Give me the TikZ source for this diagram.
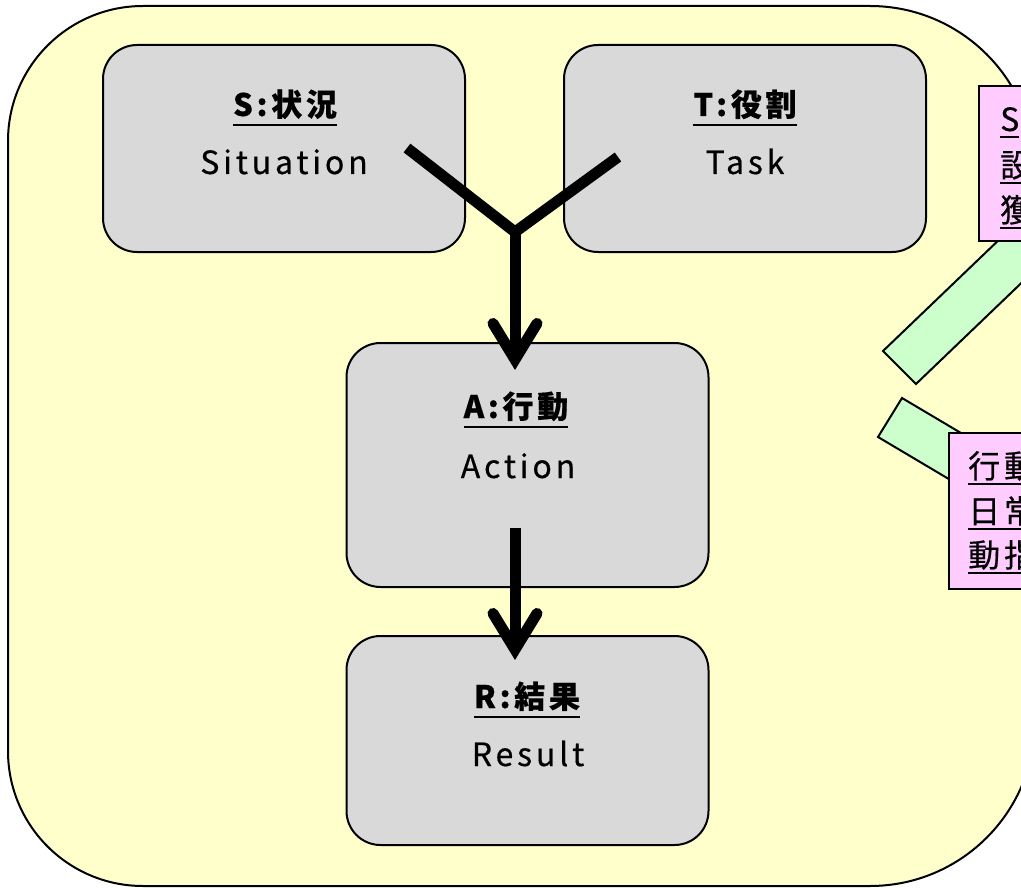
\documentclass[tikz,border=0pt]{standalone}
\usepackage{fontspec}
\setmainfont{Noto Sans CJK JP}[LetterSpace=12, FakeBold=0.5]
\usetikzlibrary{arrows.meta}
\definecolor{bgyellow}{HTML}{FFFFCC}
\definecolor{boxgray}{HTML}{D9D9D9}
\definecolor{notepink}{HTML}{FFCCFF}
\definecolor{notegreen}{HTML}{CCFFCC}
\newcommand{\ulx}[2][-10pt]{\setbox0=\hbox{#2}\rlap{\rule[#1]{\wd0}{2pt}}\box0}
\begin{document}
\begin{tikzpicture}[x=1pt,y=-1pt,
  frame/.style={draw=black, line width=2pt, fill=bgyellow},
  graybox/.style={draw=black, line width=2pt, fill=boxgray, rounded corners=34pt, minimum width=362pt, inner sep=0pt},
  pinkbox/.style={draw=black, line width=1.8pt, fill=notepink, anchor=north west, inner sep=0pt},
  greenbar/.style={draw=black, line width=2pt, fill=notegreen, line join=miter},
  ttl/.style={anchor=base, inner sep=0pt, font=\fontsize{31}{36}\selectfont\bfseries},
  sub/.style={anchor=base, inner sep=0pt, font=\fontsize{32}{36}\selectfont},
  note/.style={anchor=base west, inner sep=0pt, font=\fontsize{32}{36}\selectfont},
  yline/.style={line width=11pt, line join=miter, line cap=butt},
  bigarrow/.style={line width=11pt, line cap=butt, -{Straight Barb[length=36pt, width=44pt, line join=miter, line cap=round]}}
]
\useasboundingbox (0,0) rectangle (1021,888);
\clip (0,0) rectangle (1021,888);
% outer frame
\draw[frame] (500,6) [rounded corners=165pt] -- (1035,6) -- (1035,886) -- (500,886)
  [rounded corners=135pt] -- (8,886) -- (8,6) -- cycle;
% gray boxes
\node[graybox, minimum height=207pt] (S) at (284,148.5) {};
\node[graybox, minimum height=207pt] (T) at (745,148.5) {};
\node[graybox, minimum height=244pt] (A) at (527.5,465) {};
\node[graybox, minimum height=209pt] (R) at (527.5,740.5) {};
% green pointer bars
\draw[greenbar] (883,351) -- (1028,212) -- (1061,245) -- (916,384) -- cycle;
\draw[greenbar] (878,437) -- (902,398) -- (1057,490) -- (1033,529) -- cycle;
% pink note boxes
\node[pinkbox, minimum width=200pt, minimum height=155pt] (N1) at (978,85) {};
\node[pinkbox, minimum width=200pt, minimum height=156pt] (N2) at (948,432) {};
% texts in gray boxes
\node[ttl] (St) at (285,116) {\ulx{S:状況}};
\node[sub] (Ss) at (284,174) {Situation};
\node[ttl] (Tt) at (745,116) {\ulx{T:役割}};
\node[sub] (Ts) at (745,174) {Task};
\node[ttl] (At) at (516,418) {\ulx{A:行動}};
\node[sub] (As) at (518,478) {Action};
\node[ttl] (Rt) at (527,708) {\ulx{R:結果}};
\node[sub] (Rs) at (528,766) {Result};
% texts in pink boxes
\node[note] (N1a) at (1000,131) {\ulx[-7pt]{S}};
\node[note] (N1b) at (1000,177) {\ulx[-7pt]{設}};
\node[note] (N1c) at (1000,222) {\ulx[-7pt]{獲}};
\node[note] (N2a) at (968,478) {\ulx[-7pt]{行動}};
\node[note] (N2b) at (968,523) {\ulx[-7pt]{日常}};
\node[note] (N2c) at (968,567) {\ulx[-7pt]{動指}};
% Y connector
\coordinate (ys) at (407,148);
\coordinate (yt) at (618,157);
\coordinate (yj) at (515,232);
\coordinate (tipA) at (515,370);
\coordinate (as) at (515,528);
\coordinate (tipR) at (515,660);
\draw[yline] (ys) -- (yj) -- (yt);
\draw[bigarrow] (yj) -- (tipA);
\draw[bigarrow] (as) -- (tipR);
\end{tikzpicture}
\end{document}
